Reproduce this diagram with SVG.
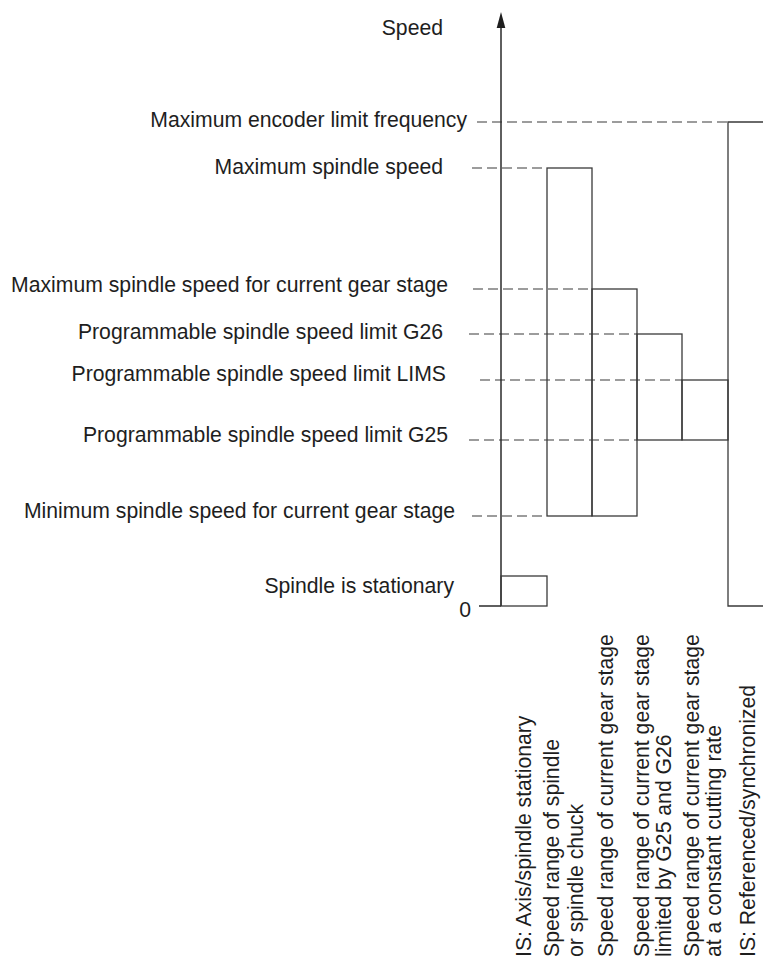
<svg xmlns="http://www.w3.org/2000/svg" width="763" height="960" viewBox="0 0 763 960">
<style>
  .lbl { font-family: "Liberation Sans", Arial, sans-serif; font-size: 21.2px; fill: #1e1e1e; }
  .end { text-anchor: end; }
  .bar { fill: none; stroke: #3a3a3a; stroke-width: 1.3; }
  .dash { fill: none; stroke: #3a3a3a; stroke-width: 1.2; stroke-dasharray: 10 5; }
  .axis { fill: none; stroke: #2a2a2a; stroke-width: 1.5; }
</style>
<rect width="763" height="960" fill="#ffffff"/>

<g id="connectors">
  <line class="dash" x1="477" y1="122" x2="728" y2="122"/>
  <line class="dash" x1="472" y1="168" x2="547" y2="168"/>
  <line class="dash" x1="473" y1="289" x2="592" y2="289"/>
  <line class="dash" x1="469" y1="334" x2="637" y2="334"/>
  <line class="dash" x1="480" y1="380" x2="682" y2="380"/>
  <line class="dash" x1="469" y1="440" x2="637" y2="440"/>
  <line class="dash" x1="472" y1="516" x2="547" y2="516"/>
</g>

<g id="axis">
  <line class="axis" x1="501" y1="26" x2="501" y2="606"/>
  <polygon points="501,12 505.3,28 496.7,28" fill="#1e1e1e"/>
  <line class="axis" x1="479" y1="606" x2="501" y2="606"/>
  <text class="lbl end" x="443" y="35">Speed</text>
  <text class="lbl end" x="471" y="617">0</text>
</g>

<g id="bar-stationary"><rect class="bar" x="501" y="576" width="46" height="30"/></g>
<g id="bar-spindle-range"><rect class="bar" x="547" y="168" width="45" height="348"/></g>
<g id="bar-gear-stage"><rect class="bar" x="592" y="289" width="45" height="227"/></g>
<g id="bar-g25-g26"><rect class="bar" x="637" y="334" width="45" height="106"/></g>
<g id="bar-lims"><rect class="bar" x="682" y="380" width="46" height="60"/></g>
<g id="bar-referenced"><path class="bar" d="M763,122 H728 V606 H763"/></g>

<g id="label-encoder"><text class="lbl end" x="467" y="127">Maximum encoder limit frequency</text></g>
<g id="label-max-spindle"><text class="lbl end" x="443" y="174">Maximum spindle speed</text></g>
<g id="label-max-gear"><text class="lbl end" x="448" y="292">Maximum spindle speed for current gear stage</text></g>
<g id="label-g26"><text class="lbl end" x="443" y="339">Programmable spindle speed limit G26</text></g>
<g id="label-lims"><text class="lbl end" x="446" y="381">Programmable spindle speed limit LIMS</text></g>
<g id="label-g25"><text class="lbl end" x="448" y="442">Programmable spindle speed limit G25</text></g>
<g id="label-min-gear"><text class="lbl end" x="455" y="518">Minimum spindle speed for current gear stage</text></g>
<g id="label-stationary"><text class="lbl end" x="454" y="593">Spindle is stationary</text></g>

<g id="legend">
  <text class="lbl" transform="translate(531,957) rotate(-90)">IS: Axis/spindle stationary</text>
  <text class="lbl" transform="translate(559,957) rotate(-90)">Speed range of spindle</text>
  <text class="lbl" transform="translate(583,957) rotate(-90)">or spindle chuck</text>
  <text class="lbl" transform="translate(613,957) rotate(-90)">Speed range of current gear stage</text>
  <text class="lbl" transform="translate(649,957) rotate(-90)">Speed range of current gear stage</text>
  <text class="lbl" transform="translate(671,957) rotate(-90)">limited by G25 and G26</text>
  <text class="lbl" transform="translate(699,957) rotate(-90)">Speed range of current gear stage</text>
  <text class="lbl" transform="translate(721,957) rotate(-90)">at a constant cutting rate</text>
  <text class="lbl" transform="translate(755,957) rotate(-90)">IS: Referenced/synchronized</text>
</g>
</svg>
